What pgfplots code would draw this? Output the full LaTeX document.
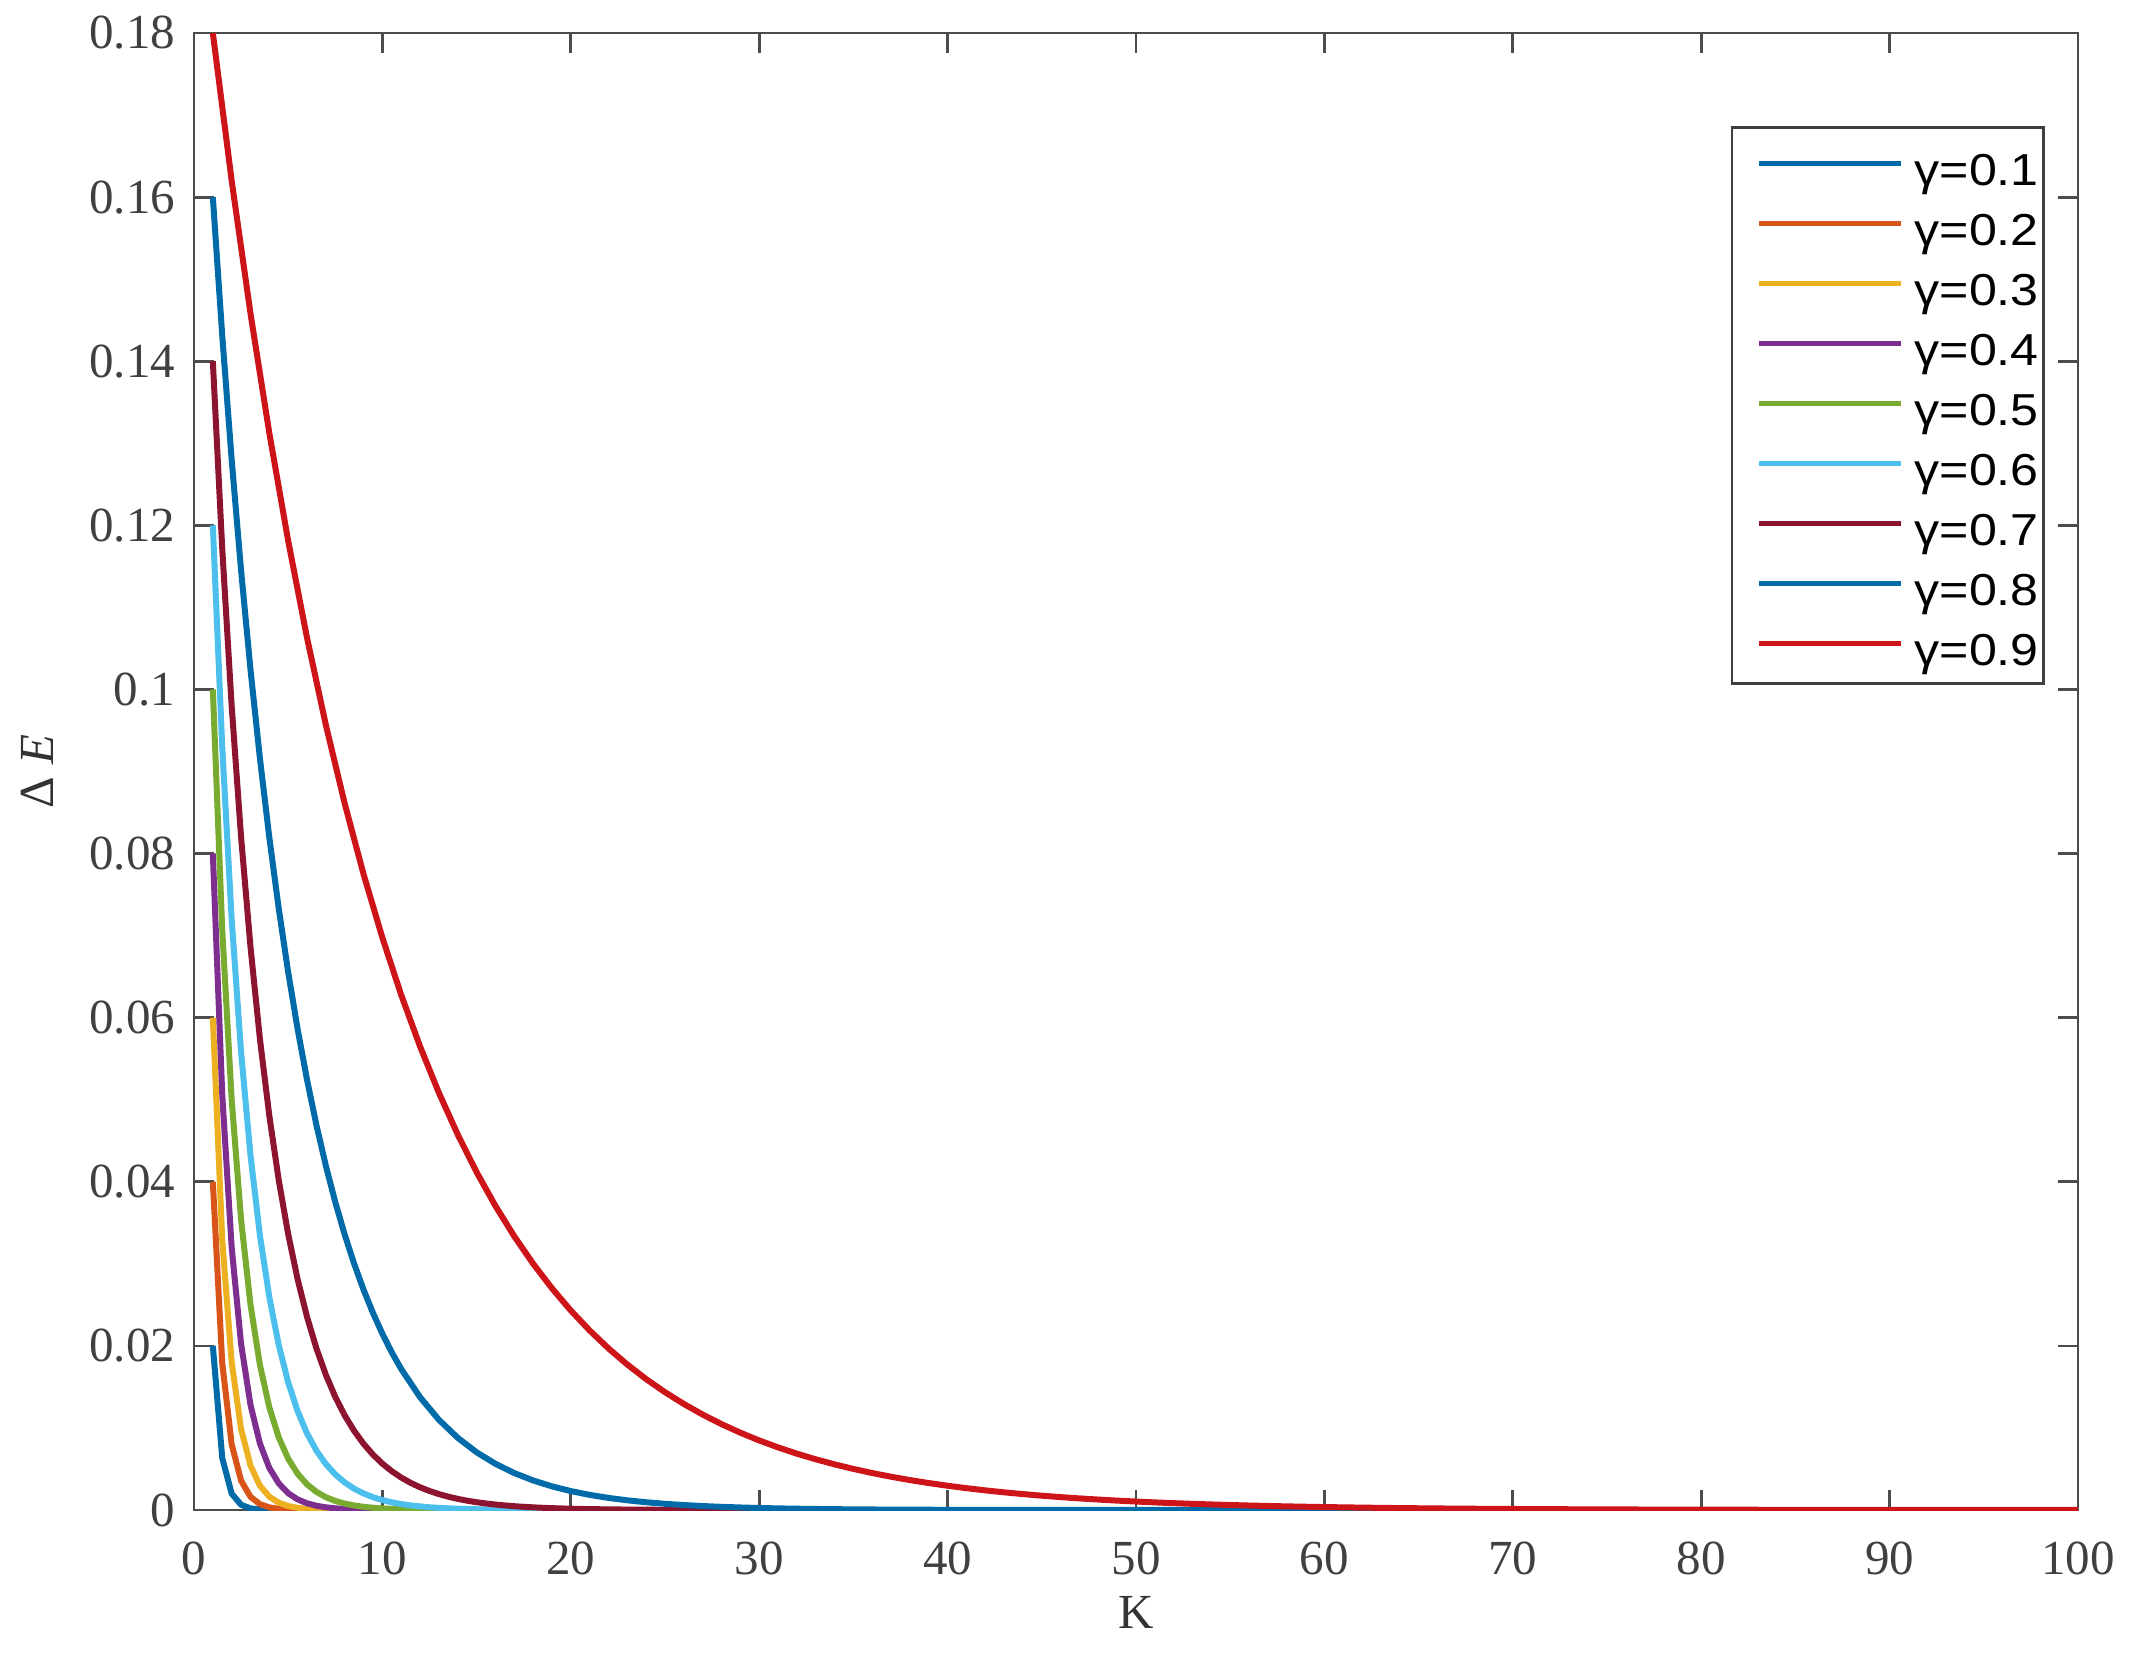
\documentclass[border=0pt]{standalone}
\usepackage{graphicx}
\usepackage{fontspec}
\setmainfont{Liberation Serif}
\newfontfamily\legendfont{Liberation Sans}
\usepackage{pgfplots}
\pgfplotsset{compat=1.18}
\definecolor{c1}{rgb}{0.0,0.42,0.66}
\definecolor{c2}{rgb}{0.85,0.33,0.10}
\definecolor{c3}{rgb}{0.93,0.69,0.13}
\definecolor{c4}{rgb}{0.49,0.18,0.56}
\definecolor{c5}{rgb}{0.47,0.67,0.19}
\definecolor{c6}{rgb}{0.30,0.75,0.93}
\definecolor{c7}{rgb}{0.55,0.08,0.18}
\definecolor{c8}{rgb}{0.0,0.42,0.66}
\definecolor{c9}{rgb}{0.80,0.08,0.10}
\newcommand{\leg}[1]{\hspace*{2.75pt}\scalebox{1.12}[1]{γ=#1}\hspace*{1.2pt}}
\begin{document}
\begin{tikzpicture}
\useasboundingbox (-48.5pt,-35.5pt) rectangle (484.25pt,377.5pt);
\begin{axis}[
  at={(0,0)}, anchor=south west,
  scale only axis, width=471pt, height=369.25pt,
  xmin=0, xmax=100, ymin=0, ymax=0.18,
  xtick={0,10,20,30,40,50,60,70,80,90,100},
  ytick={0,0.02,0.04,0.06,0.08,0.1,0.12,0.14,0.16,0.18},
  yticklabels={0,0.02,0.04,0.06,0.08,0.1,0.12,0.14,0.16,0.18},
  scaled y ticks=false,
  tick align=inside, major tick length=4.9pt,
  axis line style={draw=black!70, line width=0.7pt},
  every tick/.style={draw=black!70, line width=0.7pt},
  /pgf/number format/assume math mode=true,
  tick label style={font=\fontsize{12.25}{14}\selectfont, text=black!75},
  xticklabel style={yshift=-4.4pt},
  yticklabel style={xshift=-1.2pt},
  xlabel={K}, ylabel={Δ \textit{E}},
  label style={font=\fontsize{12.25}{14}\selectfont, text=black!80},
  xlabel style={at={(axis description cs:0.5,0)}, anchor=base, yshift=-29.5pt},
  ylabel style={at={(axis description cs:-0.0832,0.5)}, anchor=center},
  no markers,
  every axis plot/.append style={line width=1.5pt, line join=round},
  legend cell align=left,
  legend style={at={(rel axis cs:0.9825,0.937)}, anchor=north east,
    draw=black!75, line width=0.7pt, inner xsep=0pt, inner ysep=2pt,
    font=\legendfont\fontsize{11.2}{13}\selectfont,
    nodes={inner sep=0pt, text height=12.5pt, text depth=2.5pt, anchor=base},
    row sep=0pt},
  legend image code/.code={\path (0pt,0pt); \draw[#1, line width=1.3pt] (6pt,5.5pt) -- (41.5pt,5.5pt);},
]
\addplot[c1] coordinates {(1,0.02)(1.5,0.006325)(2,0.002)(2.5,0.0006325)(3,0.0002)(3.5,0.00006325)(4,0.00002)(5,0.000002)(6,0.0000002)(10,0)(20,0)(100,0)};
\addlegendentry{\leg{0.1}}
\addplot[c2] coordinates {(1,0.04)(1.5,0.017889)(2,0.008)(2.5,0.0035777)(3,0.0016)(3.5,0.00071554)(4,0.00032)(4.5,0.00014311)(5,0.000064)(5.5,0.0000286)(6,0.0000128)(7,0.00000256)(8,0.00000051)(10,0)(20,0)(100,0)};
\addlegendentry{\leg{0.2}}
\addplot[c3] coordinates {(1,0.06)(1.5,0.032863)(2,0.018)(2.5,0.009859)(3,0.0054)(3.5,0.0029577)(4,0.00162)(4.5,0.00088731)(5,0.000486)(5.5,0.00026619)(6,0.0001458)(6.5,0.0000799)(7,0.00004374)(7.5,0.00002396)(8,0.00001312)(9,0.00000394)(10,0.00000118)(12,0.0000001)(20,0)(100,0)};
\addlegendentry{\leg{0.3}}
\addplot[c4] coordinates {(1,0.08)(1.5,0.050596)(2,0.032)(2.5,0.020239)(3,0.0128)(3.5,0.0080954)(4,0.00512)(4.5,0.0032382)(5,0.002048)(5.5,0.0012953)(6,0.0008192)(6.5,0.00051811)(7,0.00032768)(7.5,0.00020724)(8,0.000131)(8.5,0.0000829)(9,0.0000524)(9.5,0.0000332)(10,0.000021)(11,0.0000084)(12,0.0000034)(13,0.0000013)(15,0.0000002)(20,0)(100,0)};
\addlegendentry{\leg{0.4}}
\addplot[c5] coordinates {(1,0.1)(1.5,0.070711)(2,0.05)(2.5,0.035355)(3,0.025)(3.5,0.017678)(4,0.0125)(4.5,0.0088388)(5,0.00625)(5.5,0.0044194)(6,0.003125)(6.5,0.0022097)(7,0.0015625)(7.5,0.0011049)(8,0.00078125)(8.5,0.00055243)(9,0.000390625)(9.5,0.00027621)(10,0.000195313)(10.5,0.0001381)(11,0.00009766)(11.5,0.0000691)(12,0.00004883)(13,0.00002441)(14,0.00001221)(15,0.0000061)(16,0.00000305)(17,0.00000153)(20,0.0000002)(30,0)(100,0)};
\addlegendentry{\leg{0.5}}
\addplot[c6] coordinates {(1,0.12)(1.5,0.092952)(2,0.072)(2.5,0.055771)(3,0.0432)(3.5,0.033463)(4,0.02592)(4.5,0.020078)(5,0.015552)(5.5,0.012047)(6,0.0093312)(6.5,0.0072279)(7,0.00559872)(7.5,0.0043368)(8,0.003359232)(8.5,0.0026021)(9,0.002015539)(9.5,0.0015612)(10,0.001209324)(10.5,0.00093674)(11,0.000725594)(11.5,0.00056205)(12,0.000435356)(12.5,0.00033723)(13,0.000261214)(13.5,0.00020234)(14,0.000156728)(14.5,0.0001214)(15,0.000094037)(16,0.000056422)(17,0.000033853)(18,0.000020312)(19,0.000012187)(20,0.000007312)(21,0.000004387)(22,0.000002632)(23,0.00000158)(25,0.0000006)(30,0)(100,0)};
\addlegendentry{\leg{0.6}}
\addplot[c7] coordinates {(1,0.14)(1.5,0.11713)(2,0.098)(2.5,0.081993)(3,0.0686)(3.5,0.057395)(4,0.04802)(4.5,0.040177)(5,0.033614)(5.5,0.028124)(6,0.0235298)(6.5,0.019687)(7,0.01647086)(7.5,0.013781)(8,0.0115296)(8.5,0.0096464)(9,0.00807072)(9.5,0.0067525)(10,0.0056495)(10.5,0.0047267)(11,0.00395465)(11.5,0.0033087)(12,0.00276826)(12.5,0.0023161)(13,0.00193778)(13.5,0.0016213)(14,0.00135645)(14.5,0.0011349)(15,0.00094951)(15.5,0.00079443)(16,0.00066466)(16.5,0.0005561)(17,0.00046526)(17.5,0.00038927)(18,0.00032568)(18.5,0.00027249)(19,0.00022798)(19.5,0.00019074)(20,0.00015958)(21,0.00011171)(22,0.000078197)(23,0.000054738)(24,0.000038317)(25,0.000026822)(26,0.000018775)(27,0.000013143)(28,0.0000092)(29,0.00000644)(30,0.000004508)(35,0.00000076)(40,0.0000001)(50,0)(100,0)};
\addlegendentry{\leg{0.7}}
\addplot[c8] coordinates {(1,0.16)(1.5,0.14311)(2,0.128)(2.5,0.11449)(3,0.1024)(3.5,0.09159)(4,0.08192)(4.5,0.073272)(5,0.065536)(5.5,0.058617)(6,0.0524288)(6.5,0.046894)(7,0.04194304)(7.5,0.037515)(8,0.033554432)(8.5,0.030012)(9,0.026843546)(9.5,0.02401)(10,0.021474836)(10.5,0.019208)(11,0.017179869)(12,0.013743895)(13,0.010995116)(14,0.008796093)(15,0.007036874)(16,0.0056295)(17,0.0045036)(18,0.00360288)(19,0.002882304)(20,0.002305843)(21,0.001844674)(22,0.00147574)(23,0.001180592)(24,0.000944473)(25,0.000755579)(26,0.000604463)(27,0.00048357)(28,0.000386856)(29,0.000309485)(30,0.000247588)(31,0.00019807)(32,0.000158456)(33,0.000126765)(34,0.000101412)(35,0.00008113)(36,0.000064904)(37,0.000051923)(38,0.000041538)(39,0.000033231)(40,0.000026585)(41,0.000021268)(42,0.000017014)(43,0.000013611)(44,0.000010889)(45,0.000008711)(46,0.000006969)(47,0.000005575)(48,0.00000446)(49,0.000003568)(50,0.000002854)(60,0.000000306)(70,0.000000033)(80,0.0000000035)(90,0)(100,0)};
\addlegendentry{\leg{0.8}}
\addplot[c9] coordinates {(1,0.18)(2,0.162)(3,0.1458)(4,0.13122)(5,0.118098)(6,0.1062882)(7,0.09565938)(8,0.086093442)(9,0.077484098)(10,0.069735688)(11,0.062762119)(12,0.056485907)(13,0.050837317)(14,0.045753585)(15,0.041178226)(16,0.037060404)(17,0.033354363)(18,0.030018927)(19,0.027017034)(20,0.024315331)(21,0.021883798)(22,0.019695418)(23,0.017725876)(24,0.015953289)(25,0.01435796)(26,0.012922164)(27,0.011629947)(28,0.010466953)(29,0.009420257)(30,0.008478232)(31,0.007630408)(32,0.006867368)(33,0.006180631)(34,0.005562568)(35,0.005006311)(36,0.00450568)(37,0.004055112)(38,0.003649601)(39,0.003284641)(40,0.002956177)(41,0.002660559)(42,0.002394503)(43,0.002155053)(44,0.001939547)(45,0.001745593)(46,0.001571033)(47,0.00141393)(48,0.001272537)(49,0.001145283)(50,0.001030755)(51,0.00092768)(52,0.000834912)(53,0.00075142)(54,0.000676278)(55,0.000608651)(56,0.000547785)(57,0.000493007)(58,0.000443706)(59,0.000399336)(60,0.000359402)(62,0.000291116)(64,0.000235804)(66,0.000191001)(68,0.000154711)(70,0.000125316)(72,0.000101506)(74,0.00008222)(76,0.000066598)(78,0.000053944)(80,0.000043695)(82,0.000035393)(84,0.000028668)(86,0.000023221)(88,0.000018809)(90,0.000015236)(92,0.000012341)(94,0.000009996)(96,0.000008097)(98,0.000006558)(100,0.000005312)};
\addlegendentry{\leg{0.9}}
\end{axis}
\end{tikzpicture}
\end{document}
